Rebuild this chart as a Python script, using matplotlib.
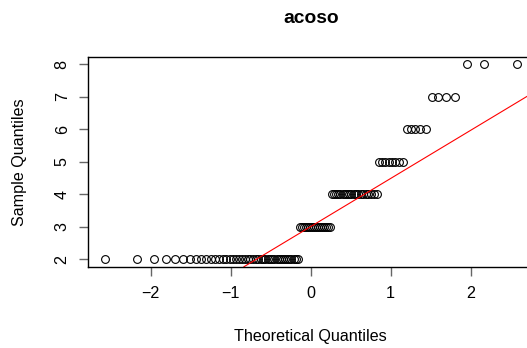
import numpy as np
import matplotlib
matplotlib.use("Agg")
import matplotlib.pyplot as plt
from statistics import NormalDist

plt.rcParams['font.family'] = ['Liberation Sans', 'DejaVu Sans']

# sample values (acoso scores) and how often each appears
levels = [2, 3, 4, 5, 6, 7, 8]
counts = [44, 16, 20, 8, 5, 4, 3]

sample = np.sort(np.repeat(levels, counts))
n = len(sample)

# theoretical quantiles, like R's qqnorm (ppoints with a = 0.5)
probs = (np.arange(1, n + 1) - 0.5) / n
theo = np.array([NormalDist().inv_cdf(p) for p in probs])

# qqline through the quartiles
y_q = np.quantile(sample, [0.25, 0.75])
x_q = [NormalDist().inv_cdf(0.25), NormalDist().inv_cdf(0.75)]

W, H = 527, 348
fig = plt.figure(figsize=(W / 100, H / 100), dpi=100)
left, right, top, bottom = 88.4, 533.0, 56.6, 266.8
ax = fig.add_axes([left / W, 1 - bottom / H, (right - left) / W, (bottom - top) / H])

ax.plot(theo, sample, linestyle='none', marker='o', ms=5.6, mfc='none',
        mec='black', mew=0.8)
ax.axline((x_q[0], y_q[0]), (x_q[1], y_q[1]), color='red', lw=0.8)

xr = theo.max() - theo.min()
yr = sample.max() - sample.min()
ax.set_xlim(theo.min() - 0.04 * xr, theo.max() + 0.04 * xr)
ax.set_ylim(sample.min() - 0.04 * yr, sample.max() + 0.04 * yr)

ax.set_xticks([-2, -1, 0, 1, 2])
ax.set_yticks([2, 3, 4, 5, 6, 7, 8])
ax.tick_params(axis='both', length=6.5, width=1, color='#666666',
               labelsize=11.6, pad=7)
for lab in ax.get_yticklabels():
    lab.set_rotation(90)
    lab.set_va('center')
for s in ax.spines.values():
    s.set_linewidth(1)
    s.set_color('black')

fig.text(310.7 / W, 1 - 18.5 / H, 'acoso', ha='center', va='center',
         fontsize=13.9, fontweight='bold')
fig.text(310.7 / W, 1 - 337 / H, 'Theoretical Quantiles', ha='center',
         va='center', fontsize=11.6)
fig.text(20 / W, 1 - 161.7 / H, 'Sample Quantiles', ha='center',
         va='center', rotation=90, fontsize=11.6)

fig.savefig('out.png', dpi=100)
